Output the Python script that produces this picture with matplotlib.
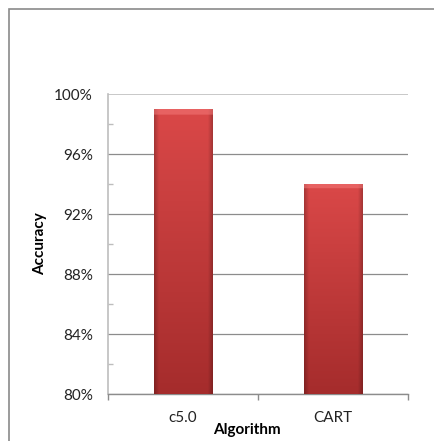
import numpy as np
import matplotlib.pyplot as plt
from matplotlib.patches import Rectangle

# ------------------------------------------------------
# Data
# ------------------------------------------------------
algorithms = ["c5.0", "CART"]
accuracy = [99, 94]          # percent
y_ticks = [80, 84, 88, 92, 96, 100]
y_minor = [82, 86, 90, 94, 98]

plt.rcParams['font.family'] = ['Lato', 'DejaVu Sans']

fig = plt.figure(figsize=(4.34, 4.41), dpi=100)
fig.patch.set_facecolor('white')

# outer chart border (only top/left visible in reference)
fig.patches.append(Rectangle((8.5 / 434, -0.2), 1.2, 1.2 - 8.5 / 441,
                             transform=fig.transFigure, fill=False,
                             edgecolor='#8a8a8a', linewidth=1.2))

ax = fig.add_axes([108 / 434, 47 / 441, 300 / 434, 300 / 441])

x = np.arange(len(algorithms)) + 0.5
bars = ax.bar(x, [v - 80 for v in accuracy], bottom=80, width=0.39,
              color='#c33b3b', zorder=3, edgecolor='none')


def bar_gradient(h=200, w=60):
    top = np.array([218, 72, 72]) / 255
    bot = np.array([165, 44, 44]) / 255
    t = np.linspace(0, 1, h)[:, None, None]
    img = top * (1 - t) + bot * t
    img = np.repeat(img, w, axis=1)
    # darker side edges
    u = np.linspace(0, 1, w)
    edge = np.clip(np.minimum(u, 1 - u) / 0.08, 0, 1)
    shade = 0.78 + 0.22 * edge
    img = img * shade[None, :, None]
    # light bevel on top
    img[:4] = img[:4] * 0.5 + np.array([245, 125, 125]) / 255 * 0.5
    return np.clip(img, 0, 1)


grad = bar_gradient()
for b in bars:
    x0, y0 = b.get_x(), b.get_y()
    im = ax.imshow(grad, extent=[x0, x0 + b.get_width(), y0, y0 + b.get_height()],
                   aspect='auto', zorder=4, interpolation='bilinear')
    im.set_clip_path(b)

ax.set_xlim(0, 2)
ax.set_ylim(80, 100)

# y axis
ax.set_yticks(y_ticks)
ax.set_yticklabels([f"{v}%" for v in y_ticks], fontsize=11, color='#222222')
ax.set_yticks(y_minor, minor=True)
ax.tick_params(axis='y', which='major', length=0, pad=11)
ax.tick_params(axis='y', which='minor', direction='in', length=3.5,
               color='#bdbdbd', width=1)
ax.yaxis.grid(True, which='major', color='#8c8c8c', linewidth=0.9, zorder=0)
ax.get_ygridlines()[-1].set_color('#c4c4c4')
ax.get_ygridlines()[-1].set_linewidth(1.3)

# x axis: boundary ticks, centred labels
ax.set_xticks([0, 1, 2])
ax.set_xticklabels([])
ax.set_xticks(x, minor=True)
ax.set_xticklabels(algorithms, minor=True, fontsize=11, color='#222222')
ax.tick_params(axis='x', which='major', direction='out', length=4.5,
               color='#8c8c8c', width=1)
ax.tick_params(axis='x', which='minor', length=0, pad=12.5)

for side in ['top', 'right']:
    ax.spines[side].set_visible(False)
ax.spines['left'].set_color('#bdbdbd')
ax.spines['left'].set_linewidth(1.2)
ax.spines['bottom'].set_color('#8c8c8c')
ax.spines['bottom'].set_linewidth(1)

fig.text(247 / 434, 1 - 430 / 441, "Algorithm", fontsize=11,
         fontweight='bold', ha='center', va='center')
fig.text(40 / 434, 1 - 244 / 441, "Accuracy", fontsize=11,
         fontweight='bold', ha='center', va='center', rotation=90)

fig.savefig("out.png", dpi=100)
